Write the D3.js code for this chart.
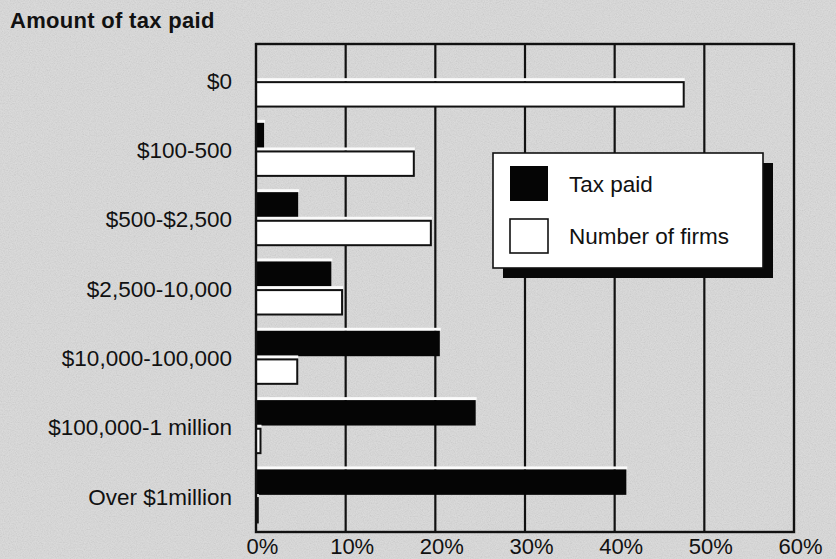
<!DOCTYPE html>
<html>
<head>
<meta charset="utf-8">
<script src="https://cdn.jsdelivr.net/npm/d3@7"></script>
<style>
  html, body { margin: 0; padding: 0; background: #d4d4d4; }
  svg { display: block; }
  text { font-family: "Liberation Sans", Arial, Helvetica, sans-serif; fill: #111; }
</style>
</head>
<body>
<svg id="chart" width="836" height="559"></svg>
<script>
// Share of tax paid and of firms, by amount of tax paid (percent)
const categories = ["$0", "$100-500", "$500-$2,500", "$2,500-10,000",
                    "$10,000-100,000", "$100,000-1 million", "Over $1million"];
const taxPaid       = [0, 0.9, 4.7, 8.4, 20.5, 24.5, 41.3];
const numberOfFirms = [47.7, 17.6, 19.5, 9.6, 4.6, 0.5, 0.2];
const xTicks = [0, 10, 20, 30, 40, 50, 60];
const seriesKeys   = ["tax", "firms"];
const seriesLabels = ["Tax paid", "Number of firms"];
const seriesFill   = { tax: "#050505", firms: "#ffffff" };
const title = "Amount of tax paid";

const W = 836, H = 559;
const plot = { left: 256, right: 794, top: 44, bottom: 532 };

const svg = d3.select("#chart");

// paper grain
const defs = svg.append("defs");
const grain = defs.append("filter").attr("id", "grain")
  .attr("x", 0).attr("y", 0).attr("width", "100%").attr("height", "100%");
grain.append("feTurbulence").attr("type", "fractalNoise")
  .attr("baseFrequency", 0.85).attr("numOctaves", 2).attr("seed", 7);
grain.append("feColorMatrix").attr("type", "matrix")
  .attr("values", "1 0 0 0 0  1 0 0 0 0  1 0 0 0 0  0 0 0 0 1");

svg.append("rect").attr("width", W).attr("height", H).attr("fill", "#dadada");
svg.append("rect").attr("width", W).attr("height", H)
  .attr("filter", "url(#grain)").attr("opacity", 0.13);

const x = d3.scaleLinear().domain([0, 60]).range([plot.left, plot.right]);
const y = d3.scaleBand().domain(categories)
  .range([plot.top, plot.bottom]).paddingInner(0.235).paddingOuter(0.1375);
const ySub = d3.scaleBand().domain(seriesKeys)
  .range([0, y.bandwidth()]).paddingInner(0.08);

const rows = categories.map((c, i) => ({ cat: c, tax: taxPaid[i], firms: numberOfFirms[i] }));

// interior vertical grid lines
svg.append("g").selectAll("line")
  .data(xTicks.slice(1, -1))
  .join("line")
  .attr("x1", d => x(d)).attr("x2", d => x(d))
  .attr("y1", plot.top).attr("y2", plot.bottom)
  .attr("stroke", "#111").attr("stroke-width", 2.2);

// bars
const groups = svg.append("g").selectAll("g")
  .data(rows).join("g")
  .attr("transform", d => `translate(0,${y(d.cat)})`);

seriesKeys.forEach(key => {
  const sel = groups.filter(d => d[key] > 0);
  // light edge along the top of each bar
  sel.append("rect")
    .attr("x", x(0))
    .attr("y", ySub(key) - 3)
    .attr("width", d => x(d[key]) - x(0) + 1)
    .attr("height", 3)
    .attr("fill", "#fbfbfb");
  sel.append("rect")
    .attr("x", x(0))
    .attr("y", ySub(key) + (key === "firms" ? 1 : 0))
    .attr("width", d => x(d[key]) - x(0))
    .attr("height", ySub.bandwidth() - (key === "firms" ? 1 : 0))
    .attr("fill", seriesFill[key])
    .attr("stroke", key === "firms" ? "#111" : "none")
    .attr("stroke-width", 2);
});

// plot frame
svg.append("rect")
  .attr("x", plot.left).attr("y", plot.top)
  .attr("width", plot.right - plot.left).attr("height", plot.bottom - plot.top)
  .attr("fill", "none").attr("stroke", "#111").attr("stroke-width", 2.4);

// x-axis labels
const xAxis = d3.axisBottom(x).tickValues(xTicks).tickSize(0).tickPadding(0)
  .tickFormat(d => d + "%");
const gx = svg.append("g").attr("transform", `translate(0,${plot.bottom})`).call(xAxis);
gx.select(".domain").remove();
gx.selectAll("text")
  .attr("y", 21.5).attr("dy", 0).attr("dx", 6)
  .attr("font-size", 22).attr("font-family", null).attr("fill", "#111");

// category labels
const yAxis = d3.axisLeft(y).tickSize(0).tickPadding(0);
const gy = svg.append("g").attr("transform", `translate(232,0)`).call(yAxis);
gy.select(".domain").remove();
gy.selectAll("text")
  .attr("dy", "0.38em").attr("font-size", 22.5)
  .attr("font-family", null).attr("fill", "#111");

// title
svg.append("text").attr("x", 10).attr("y", 28)
  .attr("font-size", 22).attr("font-weight", "bold")
  .attr("letter-spacing", 0.3)
  .text(title);

// legend
const lg = svg.append("g").attr("transform", "translate(493,153)");
lg.append("rect").attr("x", 10).attr("y", 10).attr("width", 270).attr("height", 115)
  .attr("fill", "#080808");
lg.append("rect").attr("x", 0).attr("y", 0).attr("width", 270).attr("height", 115)
  .attr("fill", "#ffffff").attr("stroke", "#111").attr("stroke-width", 1.6);
seriesKeys.forEach((key, i) => {
  const row = lg.append("g").attr("transform", `translate(0,${i * 52})`);
  row.append("rect").attr("x", 17).attr("y", 13 + (key === "firms" ? 1 : 0))
    .attr("width", 38).attr("height", 35 - (key === "firms" ? 1 : 0))
    .attr("fill", seriesFill[key])
    .attr("stroke", "#111").attr("stroke-width", key === "firms" ? 1.6 : 0);
  row.append("text").attr("x", 76).attr("y", 38.7)
    .attr("font-size", 22.5).text(seriesLabels[i]);
});
</script>
</body>
</html>
